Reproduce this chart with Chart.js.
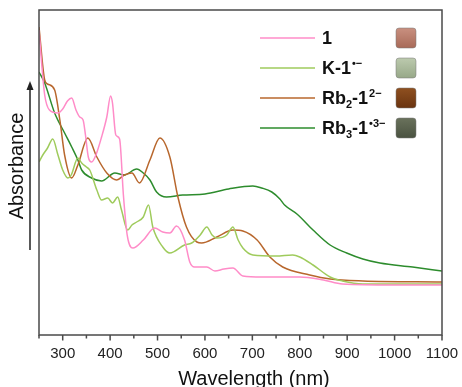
<!DOCTYPE html>
<html>
<head>
<meta charset="utf-8">
<script src="https://cdn.jsdelivr.net/npm/chart.js@4/dist/chart.umd.min.js"></script>
<style>
  html, body { margin: 0; padding: 0; background: #fff; }
  #wrap { width: 462px; height: 387px; position: relative; }
</style>
</head>
<body>
<div id="wrap"><canvas id="uv"></canvas></div>
<script>
// wavelength (nm) and absorbance (arb. units)
var wl1 = [250,255,262,272,290,300,310,319,328,336,343,348,354,361,370,382,393,401,405,412,420,428,436,448,470,494,511,526,540,557,568,578,595,604,621,640,659,680,720,800,850,890,1000,1100];
var abs1 = [305,275,240,225,222,226,234,237,225,218,215,200,178,173,180,198,218,239,232,200,196,140,100,87,95,107,103,102,109,95,73,68,68,68,64,66,67,59,58,58,55,51,50,50];

var wlK = [250,258,268,279,290,300,311,318,332,340,350,357,372,382,395,405,416,424,437,446,456,470,481,490,511,526,557,572,590,604,615,625,646,659,670,680,701,750,785,800,828,864,890,933,1100];
var absK = [173,180,187,196,180,165,157,160,177,172,168,165,145,135,137,132,138,125,105,110,113,118,130,108,88,82,90,92,100,108,100,97,100,108,95,87,80,79,80,78,70,58,54,51,51];

var wlRb2 = [250,262,268,283,294,304,319,332,353,372,393,414,430,446,462,484,505,526,543,561,583,593,625,659,680,710,737,764,821,864,933,1100];
var absRb2 = [308,255,251,245,215,180,157,170,197,178,162,155,160,162,152,175,197,178,138,108,93,92,98,105,104,95,78,68,60,56,54,53];

var wlRb3 = [250,262,283,304,319,332,340,361,382,410,430,456,470,484,498,519,553,600,650,701,720,741,758,768,794,828,864,899,933,969,1038,1100];
var absRb3 = [263,252,222,202,188,175,165,157,154,162,160,166,162,155,143,138,140,141,146,149,147,143,136,130,121,105,90,82,76,72,68,64];

var xMajor = [300,400,500,600,700,800,900,1000,1100];
var xMinor = [250,350,450,550,650,750,850,950,1050];

function pts(xs, ys) {
    return xs.map(function(x, i) { return {x: x, y: ys[i]}; });
}

// legend rows: line colour, swatch colours, text pieces (n = normal, sub, sup)
var legendRows = [
    {color: '#ff8cc8', sw: ['#c99080', '#a86a58'], parts: [['n', '1']]},
    {color: '#9fcb5c', sw: ['#bccaae', '#97a888'], parts: [['n', 'K-1'], ['sup', '•−']]},
    {color: '#b8672d', sw: ['#8f5020', '#6a3410'], parts: [['n', 'Rb'], ['sub', '2'], ['n', '-1'], ['sup', '2−']]},
    {color: '#2d8c2d', sw: ['#6a725c', '#4a5240'], parts: [['n', 'Rb'], ['sub', '3'], ['n', '-1'], ['sup', '•3−']]}
];

var FONT = "'Liberation Sans', Arial, sans-serif";

var decor = {
    id: 'decor',
    afterDraw: function(chart) {
        var c = chart.ctx, a = chart.chartArea, xs = chart.scales.x;
        c.save();
        // frame
        c.strokeStyle = '#4a4a4a';
        c.lineWidth = 1.5;
        c.strokeRect(a.left, a.top, a.right - a.left, a.bottom - a.top);
        // ticks
        c.beginPath();
        xMajor.forEach(function(v) {
            var px = xs.getPixelForValue(v);
            c.moveTo(px, a.bottom); c.lineTo(px, a.bottom + 5.5);
        });
        xMinor.forEach(function(v) {
            var px = xs.getPixelForValue(v);
            c.moveTo(px, a.bottom); c.lineTo(px, a.bottom + 3.5);
        });
        c.stroke();

        // axis titles
        c.fillStyle = '#111';
        c.font = '20px ' + FONT;
        c.textAlign = 'center';
        c.textBaseline = 'alphabetic';
        c.fillText('Wavelength (nm)', 254, 385);

        c.save();
        c.translate(17, 166);
        c.rotate(-Math.PI / 2);
        c.textBaseline = 'middle';
        c.fillText('Absorbance', 0, 0);
        c.restore();

        // arrow
        c.strokeStyle = '#222';
        c.lineWidth = 1.5;
        c.beginPath();
        c.moveTo(30, 250); c.lineTo(30, 88);
        c.stroke();
        c.fillStyle = '#222';
        c.beginPath();
        c.moveTo(30, 81); c.lineTo(26.5, 90); c.lineTo(33.5, 90); c.closePath();
        c.fill();

        // legend
        legendRows.forEach(function(r, i) {
            var y = 38 + i * 30;
            c.strokeStyle = r.color;
            c.lineWidth = 1.5;
            c.beginPath();
            c.moveTo(260, y); c.lineTo(315, y);
            c.stroke();

            var x = 322, base = y + 6;
            c.fillStyle = '#111';
            c.textAlign = 'left';
            c.textBaseline = 'alphabetic';
            r.parts.forEach(function(p) {
                if (p[0] === 'n') {
                    c.font = 'bold 18px ' + FONT;
                    c.fillText(p[1], x, base);
                } else if (p[0] === 'sup') {
                    c.font = 'bold 11px ' + FONT;
                    c.fillText(p[1], x + 1, base - 7);
                } else {
                    c.font = 'bold 11px ' + FONT;
                    c.fillText(p[1], x, base + 4);
                }
                x += c.measureText(p[1]).width + (p[0] === 'sup' ? 1 : 0);
            });

            // cuvette swatch
            var sx = 396, sy = y - 10, sw = 20;
            var g = c.createLinearGradient(0, sy, 0, sy + sw);
            g.addColorStop(0, r.sw[0]);
            g.addColorStop(1, r.sw[1]);
            c.fillStyle = g;
            c.beginPath();
            c.roundRect(sx, sy, sw, sw, 3);
            c.fill();
            c.strokeStyle = 'rgba(120,120,120,0.5)';
            c.lineWidth = 1;
            c.stroke();
        });
        c.restore();
    }
};

var ctx = document.getElementById('uv').getContext('2d');
var chart = new Chart(ctx, {
    type: 'line',
    data: {
        datasets: [
            {label: '1', data: pts(wl1, abs1), borderColor: '#ff8cc8'},
            {label: 'K-1', data: pts(wlK, absK), borderColor: '#9fcb5c'},
            {label: 'Rb2-1', data: pts(wlRb2, absRb2), borderColor: '#b8672d'},
            {label: 'Rb3-1', data: pts(wlRb3, absRb3), borderColor: '#2d8c2d'}
        ]
    },
    options: {
        responsive: true,
        maintainAspectRatio: false,
        animation: false,
        layout: {padding: {top: 10, right: 20, left: 0, bottom: 0}},
        elements: {
            point: {radius: 0},
            line: {borderWidth: 1.5, cubicInterpolationMode: 'monotone', fill: false}
        },
        plugins: {legend: {display: false}, tooltip: {enabled: false}},
        scales: {
            x: {
                type: 'linear', min: 250, max: 1100,
                afterBuildTicks: function(s) { s.ticks = xMajor.map(function(v) { return {value: v}; }); },
                ticks: {
                    font: {size: 15, family: FONT}, color: '#222', padding: 10,
                    maxRotation: 0, autoSkip: false,
                    callback: function(v) { return String(v); }
                },
                grid: {display: false, drawTicks: false},
                border: {display: false},
                afterFit: function(s) { s.height = 52; s.paddingRight = 0; s.paddingLeft = 0; }
            },
            y: {
                min: 0, max: 325,
                ticks: {display: false},
                grid: {display: false, drawTicks: false},
                border: {display: false},
                afterFit: function(s) { s.width = 39; }
            }
        }
    },
    plugins: [decor]
});
</script>
</body>
</html>
